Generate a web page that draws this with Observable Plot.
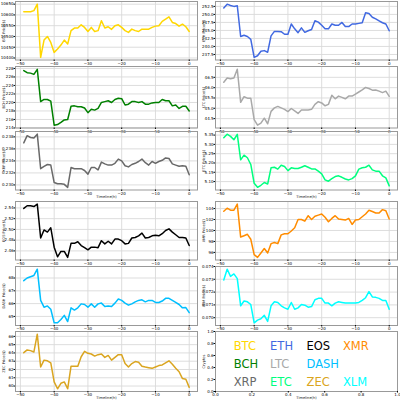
<!DOCTYPE html>
<html>
<head>
<meta charset="utf-8">
<script src="https://cdn.jsdelivr.net/npm/d3@7"></script>
<script src="https://cdn.jsdelivr.net/npm/@observablehq/plot@0.6"></script>
<style>
  html, body { margin: 0; padding: 0; background: #fff; }
  #fig { position: relative; width: 400px; height: 400px; overflow: hidden; background: #fff; font-family: "DejaVu Sans", sans-serif; }
  #fig > div { position: absolute; }
  #fig svg { overflow: visible; }
</style>
</head>
<body>
<div id="fig"></div>
<script>
// ---- data (hours before now, price in $) ----
const time = d3.range(-49, 1);
const xTicks = [-50, -40, -30, -20, -10, 0];

const btc = [10615,10615,10615,10620,10650,10403,10483,10500,10472,10426,
  10442,10460,10483,10465,10527,10539,10539,10554,10542,10523,
  10542,10523,10527,10573,10539,10545,10533,10550,10554,10542,
  10527,10519,10534,10527,10523,10534,10534,10534,10542,10548,
  10550,10570,10580,10591,10565,10560,10548,10557,10545,10523];
const bch = [227.5,227.0,226.9,226.6,227.8,220.2,220.7,220.7,220.3,214.65,
  214.8,215.3,215.9,216.0,219.1,219.2,219.0,219.0,218.7,217.6,
  218.4,218.2,218.6,220.0,220.2,220.4,220.0,220.7,221.0,220.9,
  219.4,219.6,220.2,220.2,220.0,220.2,219.6,219.6,219.9,220.0,
  220.0,220.7,220.4,220.4,219.2,219.4,218.6,219.1,219.1,218.0];
const xrp = [0.2370,0.2382,0.2379,0.2378,0.23845,0.2327,0.2331,0.2334,0.2333,0.2304,
  0.2302,0.2302,0.2301,0.2296,0.2329,0.2327,0.2327,0.2327,0.2324,0.2318,
  0.2329,0.2329,0.2325,0.2338,0.2335,0.2333,0.2333,0.2336,0.2343,0.2340,
  0.2332,0.2330,0.2334,0.2336,0.2339,0.2343,0.2337,0.2333,0.2339,0.2336,
  0.2339,0.2341,0.2345,0.2344,0.2335,0.2333,0.2331,0.2332,0.2331,0.2317];
const eos = [2.539,2.544,2.544,2.5425,2.547,2.484,2.499,2.495,2.503,2.467,
  2.449,2.459,2.459,2.448,2.474,2.474,2.477,2.470,2.466,2.462,
  2.467,2.467,2.466,2.479,2.473,2.478,2.473,2.482,2.482,2.479,
  2.473,2.474,2.484,2.485,2.488,2.493,2.484,2.485,2.488,2.489,
  2.488,2.492,2.498,2.501,2.495,2.490,2.485,2.485,2.484,2.470];
const dash = [67.79,68.0,68.1,68.2,68.69,66.25,65.72,65.82,65.56,64.5,
  64.5,64.76,65.08,64.6,65.67,65.5,65.67,65.98,65.93,65.72,
  65.98,65.72,65.98,66.04,65.77,65.82,65.77,66.04,66.36,66.25,
  66.04,65.88,65.98,66.14,66.25,66.3,66.14,66.25,66.25,66.09,
  66.09,66.2,66.41,66.41,66.25,66.09,65.93,65.67,65.69,65.29];
const zec = [64.03,64.36,64.28,64.12,66.26,62.3,63.13,63.05,62.8,60.5,
  59.67,60.33,60.5,59.67,62.4,62.4,62.4,63.54,64.2,63.95,
  63.87,63.62,63.79,63.87,63.46,63.7,63.13,63.46,63.79,63.79,
  62.72,62.3,62.72,62.96,62.88,62.39,62.3,62.22,62.14,62.3,
  62.47,62.55,62.8,63.05,62.63,62.14,61.73,60.9,60.82,59.84];
const eth = [252.0,253.2,252.8,252.5,252.7,243.1,243.5,243.1,242.2,236.6,
  237.1,238.5,238.7,238.2,243.3,244.7,244.7,244.6,243.8,243.8,
  247.0,245.5,244.3,245.8,244.4,244.9,245.3,248.0,247.6,246.6,
  245.5,245.5,247.0,246.6,246.6,247.5,246.2,246.2,247.0,247.0,
  247.2,247.4,250.5,250.3,249.1,248.6,248.0,247.4,247.0,244.9];
const ltc = [46.26,46.47,46.43,46.47,46.89,45.29,45.56,45.49,45.49,44.45,
  44.18,44.28,44.52,44.25,44.85,45.02,45.09,45.02,44.95,44.84,
  44.99,44.87,44.75,44.92,44.92,44.92,44.95,45.19,45.32,45.26,
  45.12,45.19,45.63,45.46,45.59,45.53,45.46,45.59,45.59,45.69,
  45.79,45.89,46.01,45.96,45.88,45.89,45.83,45.76,45.83,45.58];
const etc = [5.336,5.355,5.343,5.325,5.354,5.217,5.242,5.228,5.192,5.091,
  5.069,5.080,5.095,5.087,5.174,5.177,5.167,5.188,5.181,5.159,
  5.174,5.170,5.170,5.177,5.185,5.177,5.168,5.168,5.156,5.141,
  5.109,5.102,5.116,5.127,5.131,5.123,5.114,5.109,5.116,5.131,
  5.167,5.174,5.177,5.188,5.163,5.156,5.156,5.131,5.120,5.077];
const xmr = [103.5,104.06,103.7,103.7,104.8,98.8,99.05,99.3,98.4,95.6,
  95.1,95.9,96.7,95.9,97.6,97.8,97.6,99.2,99.4,99.4,
  99.9,100.5,102.0,102.0,101.7,102.7,102.0,102.6,102.8,103.0,
  102.4,101.6,102.2,102.7,102.1,102.0,101.9,102.2,101.1,101.9,
  102.0,102.5,103.0,103.7,103.45,103.2,103.2,103.8,103.6,102.1];
const xlm = [0.07294,0.07379,0.07323,0.07342,0.07305,0.07093,0.0713,0.07124,0.07103,0.0696,
  0.06981,0.06992,0.07019,0.06971,0.07093,0.07124,0.07119,0.07093,0.07077,0.07066,
  0.07119,0.07066,0.07077,0.07103,0.07098,0.07082,0.07087,0.0714,0.07151,0.07151,
  0.07114,0.07114,0.07093,0.07114,0.07124,0.07119,0.07114,0.07114,0.07114,0.07114,
  0.07119,0.07135,0.07156,0.07204,0.07162,0.07159,0.07151,0.07135,0.07135,0.07066];

// tick labels
const btcTicks = [10400,10450,10500,10550,10600,10650];
const bchTicks = [214,216,218,220,222,224,226,228];
const xrpTicks = [0.230,0.232,0.234,0.236,0.238];
const eosTicks = [2.46,2.48,2.50,2.52,2.54];
const dashTicks = [65,66,67,68];
const zecTicks = [60,61,62,63,64,65,66];
const ethTicks = [237.5,240.0,242.5,245.0,247.5,250.0,252.5];
const ltcTicks = [44.5,45.0,45.5,46.0,46.5];
const etcTicks = [5.10,5.15,5.20,5.25,5.30,5.35];
const xmrTicks = [96,98,100,102,104];
const xlmTicks = [0.070,0.071,0.072,0.073,0.074];
const unitTicks = [0.0,0.2,0.4,0.6,0.8,1.0];

// legend grid of names
const legendRows = [["BTC","ETH","EOS","XMR"],["BCH","LTC","DASH",null],["XRP","ETC","ZEC","XLM"]];

// ---- styling / layout ----
const colors = {BTC:"#FFD700", ETH:"#4169E1", EOS:"#000000", XMR:"#FF8C00",
  BCH:"#008000", LTC:"#A9A9A9", DASH:"#00BFFF", XRP:"#696969",
  ETC:"#00FF7F", ZEC:"#DAA520", XLM:"#00FFFF"};
const rowTop = [1, 66, 131, 201, 265.5, 331];
const rowBot = [59.5, 127.5, 189.5, 259.5, 324.5, 391];
const FONT = "DejaVu Sans";

const panels = [
  {name:"BTC", v:btc, ticks:btcTicks, fmt:"d", col:0, row:0},
  {name:"BCH", v:bch, ticks:bchTicks, fmt:"d", col:0, row:1},
  {name:"XRP", v:xrp, ticks:xrpTicks, fmt:".3f", col:0, row:2, xlabel:true},
  {name:"EOS", v:eos, ticks:eosTicks, fmt:".2f", col:0, row:3},
  {name:"DASH", v:dash, ticks:dashTicks, fmt:"d", col:0, row:4},
  {name:"ZEC", v:zec, ticks:zecTicks, fmt:"d", col:0, row:5, xlabel:true},
  {name:"ETH", v:eth, ticks:ethTicks, fmt:".1f", col:1, row:0},
  {name:"LTC", v:ltc, ticks:ltcTicks, fmt:".1f", col:1, row:1},
  {name:"ETC", v:etc, ticks:etcTicks, fmt:".2f", col:1, row:2, xlabel:true},
  {name:"XMR", v:xmr, ticks:xmrTicks, fmt:"d", col:1, row:3},
  {name:"XLM", v:xlm, ticks:xlmTicks, fmt:".3f", col:1, row:4},
  {legend:true, col:1, row:5, xlabel:true}
];

const fig = document.getElementById("fig");

function padDomain(lo, hi) { const p = (hi - lo) * 0.05; return [lo - p, hi + p]; }

for (const p of panels) {
  const mt = 1, mb = p.xlabel ? 9 : 6;
  const ml = 15, mr = 3;
  const h = rowBot[p.row] - rowTop[p.row] + mt + mb;
  const marks = [];
  let xOpt, yOpt, yLabel;
  if (p.legend) {
    xOpt = {domain:[0,1]}; yOpt = {domain:[0,1]};
    yLabel = "Cryptos";
    const items = [];
    legendRows.forEach((r, ri) => r.forEach((n, ci) => {
      if (n) items.push({name:n, x:0.1 + 0.2*ci, y:0.7 - 0.3*ri});
    }));
    marks.push(Plot.frame({stroke:"#999", strokeWidth:1}));
    marks.push(Plot.text(items, {x:"x", y:"y", text:"name", fill:d => colors[d.name],
      textAnchor:"start", lineAnchor:"bottom", fontSize:11.5, fontFamily:FONT}));
    marks.push(Plot.axisX({ticks:unitTicks, tickFormat:d3.format(".1f"), tickSize:1.5, tickPadding:0.5, fontSize:4, label:null, fontFamily:FONT}));
    marks.push(Plot.axisY({ticks:unitTicks, tickFormat:d3.format(".1f"), tickSize:1.5, tickPadding:0.5, fontSize:4, label:null, fontFamily:FONT}));
  } else {
    xOpt = {domain:[-51.45, 2.45]};
    yOpt = {domain: padDomain(d3.min(p.v), d3.max(p.v))};
    yLabel = p.name + " Price($)";
    const data = time.map((t, i) => ({t, v: p.v[i]}));
    marks.push(Plot.gridX({ticks:xTicks, stroke:"#d9d9d9", strokeOpacity:1, strokeWidth:0.9}));
    marks.push(Plot.gridY({ticks:p.ticks, stroke:"#d9d9d9", strokeOpacity:1, strokeWidth:0.9}));
    marks.push(Plot.frame({stroke:"#999", strokeWidth:1}));
    marks.push(Plot.line(data, {x:"t", y:"v", stroke:colors[p.name], strokeWidth:1.5}));
    marks.push(Plot.axisX({ticks:xTicks, tickFormat:d3.format("d"), tickSize:1.5, tickPadding:0.5, fontSize:4, label:null, fontFamily:FONT}));
    marks.push(Plot.axisY({ticks:p.ticks, tickFormat:d3.format(p.fmt), tickSize:1.5, tickPadding:0.5, fontSize:4, label:null, fontFamily:FONT}));
  }
  marks.push(Plot.text([yLabel], {frameAnchor:"left", rotate:-90, dx:-12, textAnchor:"middle", lineAnchor:"middle", fontSize:3.6, fontFamily:FONT, fill:"#222"}));
  if (p.xlabel) {
    marks.push(Plot.text(["Timeline(h)"], {frameAnchor:"bottom", dy:6.8, textAnchor:"middle", lineAnchor:"middle", fontSize:3.6, fontFamily:FONT, fill:"#222"}));
  }
  const svg = Plot.plot({
    width: 200, height: h,
    marginLeft: ml, marginRight: mr, marginTop: mt, marginBottom: mb,
    x: xOpt, y: yOpt,
    style: {fontFamily: FONT, background: "transparent", overflow: "visible"},
    marks
  });
  const wrap = document.createElement("div");
  wrap.style.left = (p.col * 200) + "px";
  wrap.style.top = (rowTop[p.row] - mt) + "px";
  wrap.appendChild(svg);
  fig.appendChild(wrap);
}
</script>
</body>
</html>
